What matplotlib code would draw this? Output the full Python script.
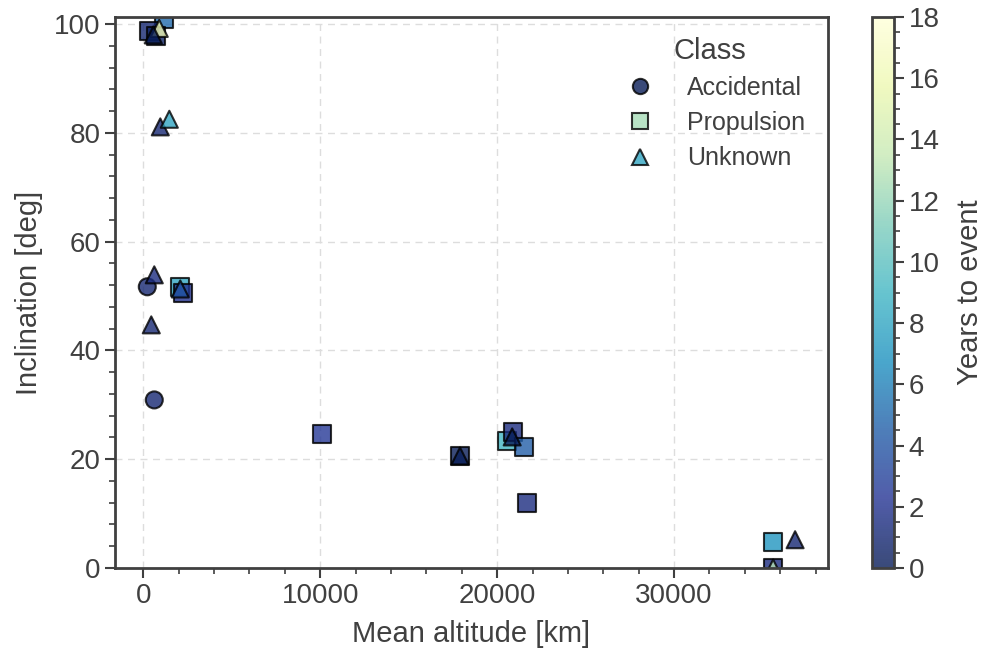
import numpy as np
import matplotlib
matplotlib.use("Agg")
import matplotlib.pyplot as plt
from matplotlib.colors import Normalize
from matplotlib.lines import Line2D
from matplotlib.ticker import AutoMinorLocator, MultipleLocator

plt.rcParams['font.family'] = ['Liberation Sans', 'DejaVu Sans']

# data
acc_alt = [225, 620]
acc_inc = [51.7, 30.9]
acc_yrs = [1.0, 1.0]

prop_alt = [1150, 300, 700, 2090, 2260, 10110, 17900, 20560, 20900, 21520, 21700, 35600, 35600]
prop_inc = [100.9, 98.8, 97.8, 51.7, 50.6, 24.7, 20.6, 23.3, 25.0, 22.2, 12.0, 4.8, 0.0]
prop_yrs = [5, 1, 0.5, 8, 2, 2.5, 0, 9, 1.5, 4.5, 1.5, 7, 1.5]

unk_alt = [900, 565, 960, 1470, 620, 2090, 450, 17900, 20850, 36840, 35600]
unk_inc = [99.2, 98.0, 81.1, 82.5, 53.9, 51.3, 44.7, 20.6, 24.1, 5.2, 0.0]
unk_yrs = [16, 0, 1, 8, 1.5, 4, 1, 0, 0, 1, 13]

classes = ['Accidental', 'Propulsion', 'Unknown']
legend_vals = [0, 12.5, 8]

text_col = '#404040'
cmap = plt.get_cmap('YlGnBu_r')
norm = Normalize(vmin=0, vmax=18)
alpha = 0.8

fig = plt.figure(figsize=(9.85, 6.52), dpi=100)
ax = fig.add_axes([115 / 985, 84 / 652, 713 / 985, 551 / 652])
cax = fig.add_axes([872 / 985, 84 / 652, 22 / 985, 551 / 652])

ax.grid(True, which='major', color='#dddddd', linestyle=(0, (5, 4)), linewidth=1)
ax.set_axisbelow(True)

kw = dict(cmap=cmap, norm=norm, alpha=alpha, edgecolors='black', linewidths=1.5, clip_on=True)
sc = ax.scatter(acc_alt, acc_inc, c=acc_yrs, marker='o', s=150, **kw)
ax.scatter(prop_alt, prop_inc, c=prop_yrs, marker='s', s=170, **kw)
ax.scatter(unk_alt, unk_inc, c=unk_yrs, marker='^', s=150, **kw)

ax.set_xlim(-1600, 38700)
ax.set_ylim(0, 101.3)
ax.xaxis.set_major_locator(MultipleLocator(10000))
ax.xaxis.set_minor_locator(AutoMinorLocator(5))
ax.yaxis.set_major_locator(MultipleLocator(20))
ax.yaxis.set_minor_locator(AutoMinorLocator(5))

ax.set_xlabel('Mean altitude [km]', fontsize=21, color=text_col, labelpad=8)
ax.set_ylabel('Inclination [deg]', fontsize=21, color=text_col, labelpad=8)

for a in (ax, cax):
    for sp in a.spines.values():
        sp.set_color(text_col)
        sp.set_linewidth(2)
    a.tick_params(which='major', length=7, width=1.5, color=text_col, labelsize=20, labelcolor=text_col)
    a.tick_params(which='minor', length=4, width=1.2, color=text_col)

# legend with custom handles
handles = []
for name, m, v in zip(classes, ['o', 's', '^'], legend_vals):
    handles.append(Line2D([], [], linestyle='none', marker=m, markersize=11,
                          markerfacecolor=cmap(norm(v)), markeredgecolor='black',
                          markeredgewidth=1.5, alpha=alpha, label=name))
leg = ax.legend(handles=handles, title='Class', loc='upper right', frameon=False,
                fontsize=18, title_fontsize=21, bbox_to_anchor=(1.0, 1.005),
                handletextpad=0.9, labelspacing=0.45)
for t in leg.get_texts():
    t.set_color(text_col)
leg.get_title().set_color(text_col)

cb = fig.colorbar(sc, cax=cax)
cb.set_ticks(np.arange(0, 19, 2))
cb.ax.yaxis.set_minor_locator(AutoMinorLocator(4))
cb.set_label('Years to event', fontsize=21, color=text_col, labelpad=12)
cb.outline.set_edgecolor(text_col)
cb.outline.set_linewidth(2)

fig.savefig('out.png', dpi=100)
